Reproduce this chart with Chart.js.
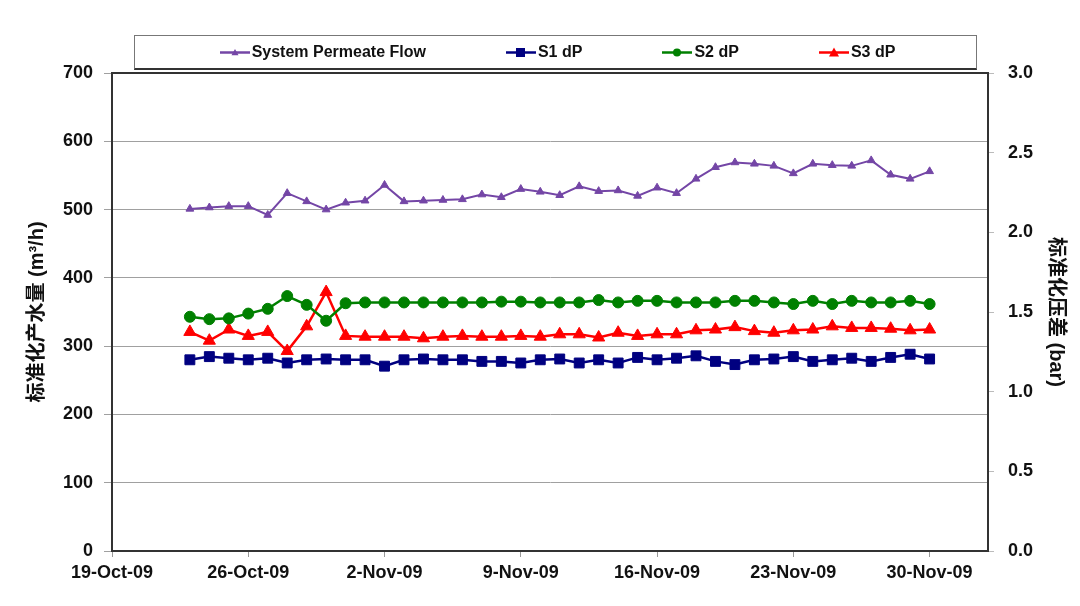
<!DOCTYPE html>
<html>
<head>
<meta charset="utf-8">
<script src="https://cdn.jsdelivr.net/npm/chart.js@4"></script>
<style>
  html, body { margin: 0; padding: 0; background: #fff; }
  #wrap { position: relative; width: 1080px; height: 606px; }
  #legend {
    position: absolute; left: 134px; top: 35px; width: 837px; height: 32px;
    border: 1px solid #777; border-bottom: 2px solid #333;
    display: flex; align-items: center; justify-content: center; gap: 80px;
    font: bold 16px "Liberation Sans", Arial, sans-serif; color: #111;
    padding-left: 4px; box-sizing: content-box;
  }
  #legend .item { display: flex; align-items: center; gap: 2px; }
</style>
</head>
<body>
<div id="wrap">
  <canvas id="flowChart" width="1080" height="606"></canvas>
  <div id="legend"></div>
</div>
<script>
// x axis: days counted from 19-Oct-09, ticks every 7 days
var xTickLabels = ["19-Oct-09", "26-Oct-09", "2-Nov-09", "9-Nov-09", "16-Nov-09", "23-Nov-09", "30-Nov-09"];
var firstDay = 4; // 23-Oct-09, one reading per day up to 30-Nov-09

var flow = [501, 503, 505, 505, 492, 524, 512, 500, 510, 513,
            536, 512, 513, 514, 515, 522, 518, 530, 526, 521,
            534, 527, 528, 520, 532, 524, 545, 562, 569, 567,
            564, 553, 567, 565, 564, 572, 551, 545, 556];

var s1dP = [1.20, 1.22, 1.21, 1.20, 1.21, 1.18, 1.20, 1.205, 1.20, 1.20,
            1.16, 1.20, 1.205, 1.20, 1.20, 1.19, 1.19, 1.18, 1.20, 1.205,
            1.18, 1.20, 1.18, 1.215, 1.20, 1.21, 1.225, 1.19, 1.17, 1.20,
            1.205, 1.22, 1.19, 1.20, 1.21, 1.19, 1.215, 1.235, 1.205];

var s2dP = [1.47, 1.455, 1.46, 1.49, 1.52, 1.60, 1.545, 1.445, 1.555, 1.56,
            1.56, 1.56, 1.56, 1.56, 1.56, 1.56, 1.565, 1.565, 1.56, 1.56,
            1.56, 1.575, 1.56, 1.57, 1.57, 1.56, 1.56, 1.56, 1.57, 1.57,
            1.56, 1.55, 1.57, 1.55, 1.57, 1.56, 1.56, 1.57, 1.55];

var s3dP = [1.375, 1.32, 1.39, 1.35, 1.375, 1.255, 1.41, 1.625, 1.35, 1.345,
            1.345, 1.345, 1.335, 1.345, 1.35, 1.345, 1.345, 1.35, 1.345, 1.36,
            1.36, 1.34, 1.37, 1.35, 1.36, 1.36, 1.385, 1.39, 1.405, 1.38,
            1.37, 1.385, 1.39, 1.41, 1.40, 1.40, 1.395, 1.385, 1.39];

function toPoints(values) {
  return values.map(function (v, i) { return { x: firstDay + i, y: v }; });
}

var seriesInfo = [
  { label: "System Permeate Flow", data: flow, color: "#7446a6", style: "triangle", radius: 4.5, width: 2, axis: "y" },
  { label: "S1 dP", data: s1dP, color: "#000080", style: "rect", radius: 7, width: 2.5, axis: "y2" },
  { label: "S2 dP", data: s2dP, color: "#008000", style: "circle", radius: 5.5, width: 2.5, axis: "y2" },
  { label: "S3 dP", data: s3dP, color: "#ff0000", style: "triangle", radius: 7, width: 2.5, axis: "y2" }
];

var datasets = seriesInfo.map(function (s) {
  return {
    label: s.label,
    data: toPoints(s.data),
    yAxisID: s.axis,
    borderColor: s.color,
    backgroundColor: s.color,
    borderWidth: s.width,
    pointStyle: s.style,
    pointRadius: s.radius,
    pointBorderWidth: 1,
    pointBackgroundColor: s.color,
    pointBorderColor: s.color,
    tension: 0
  };
});

// html legend with a short line and marker like the original
var legendEl = document.getElementById("legend");
seriesInfo.forEach(function (s) {
  var marker;
  if (s.style === "rect") {
    marker = '<rect x="10" y="3" width="9" height="9" fill="' + s.color + '"/>';
  } else if (s.style === "circle") {
    marker = '<circle cx="15" cy="7.5" r="4" fill="' + s.color + '"/>';
  } else {
    var h = s.axis === "y" ? 3.5 : 5;
    marker = '<polygon points="15,' + (7.5 - h) + ' ' + (15 - h) + ',' + (7.5 + h * 0.8) + ' ' + (15 + h) + ',' + (7.5 + h * 0.8) + '" fill="' + s.color + '"/>';
  }
  var item = document.createElement("div");
  item.className = "item";
  item.innerHTML = '<svg width="30" height="15"><line x1="0" y1="7.5" x2="30" y2="7.5" stroke="' + s.color + '" stroke-width="2.5"/>' + marker + '</svg><span>' + s.label + '</span>';
  legendEl.appendChild(item);
});

var plotFrame = {
  id: "plotFrame",
  beforeDatasetsDraw: function (chart) {
    var a = chart.chartArea, ctx = chart.ctx;
    ctx.save();
    ctx.strokeStyle = "#333";
    ctx.lineWidth = 2;
    ctx.strokeRect(a.left, a.top, a.right - a.left, a.bottom - a.top);
    ctx.restore();
  }
};

var tickFont = { family: '"Liberation Sans", Arial, sans-serif', size: 18, weight: "bold" };
var titleFont = { family: '"Liberation Sans", "Noto Sans CJK SC", sans-serif', size: 20, weight: "bold" };

Chart.defaults.color = "#111";

new Chart(document.getElementById("flowChart").getContext("2d"), {
  type: "line",
  data: { datasets: datasets },
  plugins: [plotFrame],
  options: {
    responsive: false,
    devicePixelRatio: 1,
    animation: false,
    layout: { padding: { top: 73, left: 0, right: 0, bottom: 0 } },
    plugins: {
      legend: { display: false },
      tooltip: { enabled: false }
    },
    scales: {
      x: {
        type: "linear",
        min: 0,
        max: 45,
        afterBuildTicks: function (scale) {
          scale.ticks = xTickLabels.map(function (l, i) { return { value: i * 7 }; });
        },
        afterFit: function (scale) { scale.height = 55; },
        ticks: {
          font: tickFont,
          padding: 5,
          maxRotation: 0,
          autoSkip: false,
          callback: function (value) { return xTickLabels[Math.round(value / 7)]; }
        },
        grid: { drawOnChartArea: false, drawTicks: true, tickLength: 6, tickColor: "#999" },
        border: { color: "#222", width: 2 }
      },
      y: {
        position: "left",
        min: 0,
        max: 700,
        afterFit: function (scale) { scale.width = 112; },
        ticks: { stepSize: 100, font: tickFont, padding: 11 },
        grid: { color: "#a0a0a0", lineWidth: 1, tickLength: 8 },
        border: { color: "#333", width: 2 },
        title: { display: true, text: "标准化产水量 (m³/h)", font: titleFont, padding: { top: 25, bottom: 0 } }
      },
      y2: {
        position: "right",
        min: 0,
        max: 3,
        afterFit: function (scale) { scale.width = 92; },
        ticks: {
          stepSize: 0.5,
          font: tickFont,
          padding: 14,
          callback: function (value) { return value.toFixed(1); }
        },
        grid: { drawOnChartArea: false, tickLength: 6, tickColor: "#bbb" },
        border: { color: "#333", width: 2 },
        title: { display: true, text: "标准化压差 (bar)", font: titleFont, padding: { top: 12, bottom: 0 } }
      }
    }
  }
});
</script>
</body>
</html>
